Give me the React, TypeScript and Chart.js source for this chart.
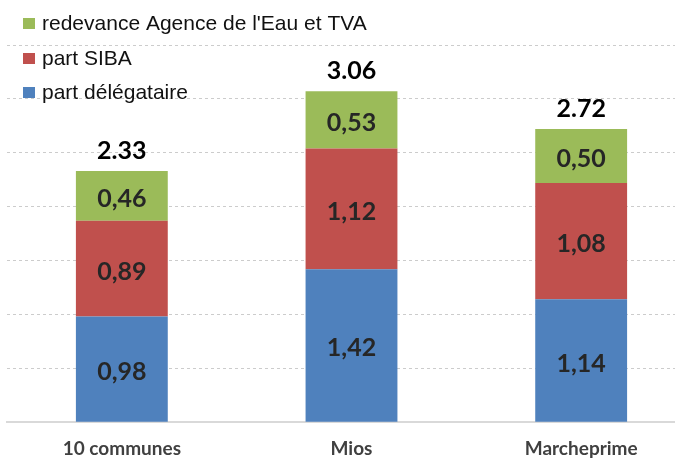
import React, { useEffect, useRef } from "react";
import { Chart, registerables } from "chart.js";

Chart.register(...registerables);

const categories = ["10 communes", "Mios", "Marcheprime"];
const partDelegataire = [0.98, 1.42, 1.14];
const partSIBA = [0.89, 1.12, 1.08];
const redevance = [0.46, 0.53, 0.5];
const totals = ["2.33", "3.06", "2.72"];
const seriesLabels = ["part délégataire", "part SIBA", "redevance Agence de l'Eau et TVA"];
const seriesColors = ["#4f81bd", "#c0504d", "#9bbb59"];

const labelPlugin = {
  id: "valueLabels",
  afterDatasetsDraw(chart: any) {
    const ctx = chart.ctx;
    ctx.save();
    ctx.textAlign = "center";
    ctx.textBaseline = "middle";
    ctx.font = "bold 25px Lato";
    ctx.fillStyle = "#262626";
    chart.data.datasets.forEach((ds: any, di: number) => {
      const meta = chart.getDatasetMeta(di);
      meta.data.forEach((bar: any, i: number) => {
        const v = ds.data[i] as number;
        const txt = v.toFixed(2).replace(".", ",");
        ctx.fillText(txt, bar.x, (bar.y + bar.base) / 2 + 3);
      });
    });
    const last = chart.getDatasetMeta(chart.data.datasets.length - 1);
    ctx.fillStyle = "#000000";
    last.data.forEach((bar: any, i: number) => {
      ctx.fillText(totals[i], bar.x, bar.y - 20);
    });
    ctx.restore();
  },
  afterDraw(chart: any) {
    const ctx = chart.ctx;
    ctx.save();
    ctx.font = '21px "Liberation Sans"';
    ctx.textBaseline = "middle";
    ctx.textAlign = "left";
    const n = chart.data.datasets.length;
    const rowY = [24, 59, 93];
    for (let k = 0; k < n; k++) {
      const ds = chart.data.datasets[n - 1 - k];
      const y = rowY[k];
      ctx.fillStyle = ds.backgroundColor;
      ctx.fillRect(23, y - 6, 12, 11);
      ctx.fillStyle = "#111111";
      ctx.fillText(ds.label, 42, y);
    }
    ctx.restore();
  },
};

export default function App() {
  const ref = useRef<HTMLCanvasElement>(null);
  useEffect(() => {
    if (!ref.current) return;
    const seriesData = [partDelegataire, partSIBA, redevance];
    const chart = new Chart(ref.current, {
      type: "bar",
      data: {
        labels: categories,
        datasets: seriesData.map((d, i) => ({
          label: seriesLabels[i],
          data: d,
          backgroundColor: seriesColors[i],
          borderWidth: 0,
          barPercentage: 0.4,
          categoryPercentage: 1,
        })),
      },
      options: {
        responsive: false,
        animation: false,
        layout: { padding: { left: 7, right: 4, top: 45, bottom: -16 } },
        plugins: { legend: { display: false }, tooltip: { enabled: false } },
        scales: {
          x: {
            stacked: true,
            grid: { display: false, drawTicks: false },
            border: { display: true, color: "#d9d9d9", width: 2 },
            ticks: {
              padding: 15,
              color: "#404040",
              font: { family: "Lato", weight: "bold", size: 19 },
            },
          },
          y: {
            stacked: true,
            min: 0,
            max: 3.5,
            ticks: { display: false, stepSize: 0.5 },
            grid: {
              drawTicks: false,
              color: (c: any) => (c.tick && c.tick.value === 0 ? "rgba(0,0,0,0)" : "#cccccc"),
              lineWidth: 1,
            },
            border: { display: false, dash: [3, 3] },
          },
        },
      },
      plugins: [labelPlugin],
    });
    return () => chart.destroy();
  }, []);
  return (
    <div style={{ position: "fixed", left: 0, top: 0, width: 675, height: 459, overflow: "hidden", background: "#fff" }}>
      <canvas ref={ref} width={700} height={459} style={{ display: "block" }} />
    </div>
  );
}
